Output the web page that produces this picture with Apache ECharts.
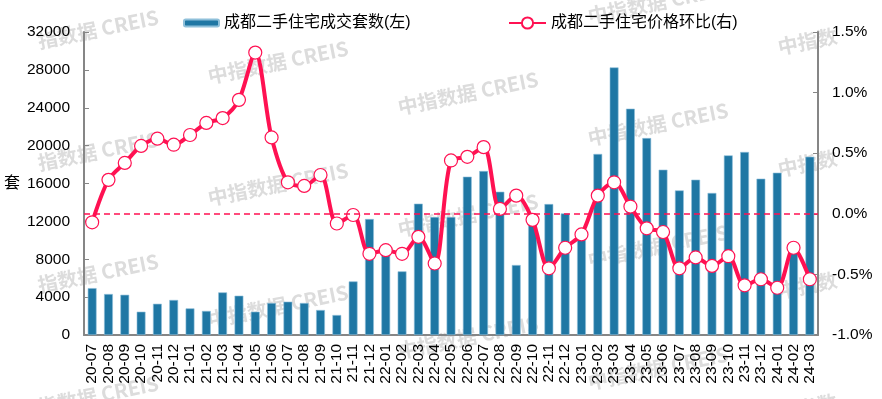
<!DOCTYPE html>
<html>
<head>
<meta charset="utf-8">
<script src="https://cdn.jsdelivr.net/npm/echarts@6/dist/echarts.min.js"></script>
<style>
    html, body {margin: 0; padding: 0; background: #fff;}
    #main {width: 882px; height: 399px;}
</style>
</head>
<body>
<div id="main"></div>
<script>
var months = ['20-07','20-08','20-09','20-10','20-11','20-12',
    '21-01','21-02','21-03','21-04','21-05','21-06','21-07','21-08','21-09','21-10','21-11','21-12',
    '22-01','22-02','22-03','22-04','22-05','22-06','22-07','22-08','22-09','22-10','22-11','22-12',
    '23-01','23-02','23-03','23-04','23-05','23-06','23-07','23-08','23-09','23-10','23-11','23-12',
    '24-01','24-02','24-03'];

// 成交套数(左)
var dealCount = [4950,4330,4250,2460,3300,3700,
    2810,2540,4500,4150,2460,3380,3520,3380,2640,2110,5660,12250,
    8800,6720,13870,12460,12460,16720,17320,15130,7390,12000,13830,12840,
    10500,19120,28260,23900,20800,17460,15270,16400,15000,18970,19330,16510,
    17140,9300,18830];

// 价格环比 % (右)
var priceMoM = [-0.07,0.28,0.42,0.56,0.62,0.57,
    0.65,0.75,0.79,0.94,1.33,0.63,0.26,0.23,0.32,-0.08,-0.01,-0.33,
    -0.30,-0.33,-0.19,-0.41,0.44,0.47,0.55,0.04,0.15,-0.05,-0.45,-0.28,
    -0.17,0.15,0.26,0.06,-0.12,-0.15,-0.45,-0.36,-0.43,-0.35,-0.59,-0.54,
    -0.61,-0.28,-0.54];

var leftTicks = {min: 0, max: 32000, interval: 4000};
var rightTicks = {min: -1.0, max: 1.5, interval: 0.5};

var barName = '成都二手住宅成交套数(左)',
    lineName = '成都二手住宅价格环比(右)';

var FONT = "'Liberation Sans', 'Noto Sans CJK SC', sans-serif",
    PINK = '#ff1152',
    BLUE = '#1f77a4',
    AXIS = '#868686';

// 水印
var marks = [];
for (var c = 0; c < 5; c++) {
    for (var r = -1; r < 4; r++) {
        var x = 20 + c * 190, y = 55 + c * 31 + r * 122;
        var txt = '中指数据 CREIS';
        if (c === 0) { txt = '指数据 CREIS'; x = 40; y -= 4; }
        if (c === 4) { txt = '中指数'; y -= 122; }
        marks.push({
            type: 'text', x: x, y: y, rotation: 0.2, z: -10, silent: true,
            style: {text: txt, fill: '#dcdcdc', font: "bold 20px 'Noto Sans CJK SC', sans-serif", textVerticalAlign: 'bottom'}
        });
    }
}

var chart = echarts.init(document.getElementById('main'));
chart.setOption({
    animation: false,
    textStyle: {fontFamily: FONT},
    graphic: marks,
    legend: [
        {
            data: [barName], left: 178, top: 10,
            itemWidth: 35, itemHeight: 7, itemGap: 4,
            textStyle: {fontSize: 16, color: '#000', fontFamily: FONT}
        },
        {
            data: [lineName], left: 503, top: 10,
            itemWidth: 37, itemHeight: 14,
            textStyle: {fontSize: 16, color: '#000', fontFamily: FONT}
        }
    ],
    grid: {left: 84, right: 64, top: 32, bottom: 64},
    xAxis: {
        type: 'category',
        data: months,
        axisLine: {lineStyle: {color: AXIS, width: 2}},
        axisTick: {length: 5, lineStyle: {color: '#000'}},
        axisLabel: {rotate: 90, fontSize: 15.5, color: '#000', margin: 9, interval: 0}
    },
    yAxis: [
        {
            type: 'value',
            min: leftTicks.min, max: leftTicks.max, interval: leftTicks.interval,
            name: '套', nameLocation: 'middle', nameRotate: 0, nameGap: 64,
            nameTextStyle: {fontSize: 16, color: '#000', padding: [24, 0, 0, 0]},
            axisLine: {show: true, lineStyle: {color: AXIS, width: 2}},
            axisTick: {show: true, inside: true, length: 5, lineStyle: {color: AXIS}},
            axisLabel: {
                fontSize: 15.5, color: '#000', margin: 14,
                formatter: function (v) { return String(v); }
            },
            splitLine: {show: false}
        },
        {
            type: 'value',
            min: rightTicks.min, max: rightTicks.max, interval: rightTicks.interval,
            axisLine: {show: true, lineStyle: {color: AXIS, width: 2}},
            axisTick: {show: true, inside: true, length: 5, lineStyle: {color: AXIS}},
            axisLabel: {
                fontSize: 15.5, color: '#000', margin: 14,
                formatter: function (v) { return v.toFixed(1) + '%'; }
            },
            splitLine: {show: false}
        }
    ],
    series: [
        {
            name: barName,
            type: 'bar',
            yAxisIndex: 0,
            barWidth: '54%',
            itemStyle: {color: BLUE, borderColor: '#8fc0da', borderWidth: 0.6},
            data: dealCount,
            z: 2
        },
        {
            name: lineName,
            type: 'line',
            yAxisIndex: 1,
            smooth: 0.3,
            symbol: 'circle',
            symbolSize: 13,
            lineStyle: {color: PINK, width: 4},
            itemStyle: {color: '#fff', borderColor: PINK, borderWidth: 1.2},
            data: priceMoM,
            z: 3,
            markLine: {
                silent: true,
                symbol: 'none',
                label: {show: false},
                lineStyle: {color: PINK, type: [6, 4], width: 1.5},
                data: [{yAxis: 0}]
            }
        }
    ]
});
</script>
</body>
</html>
